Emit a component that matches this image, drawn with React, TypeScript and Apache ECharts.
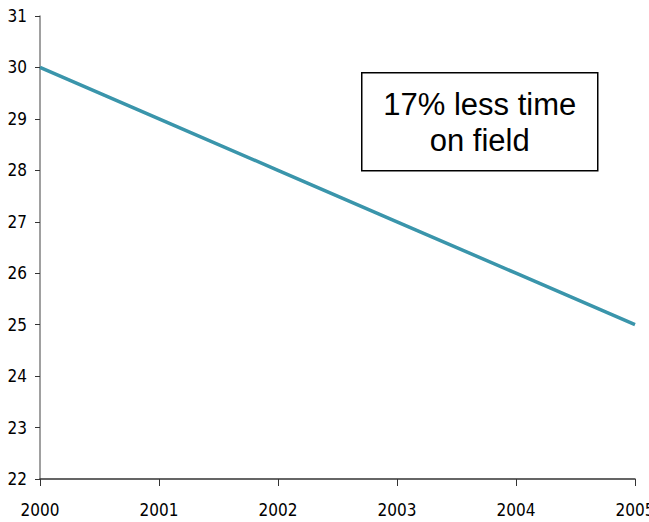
import React, { useEffect, useRef } from "react";
import * as echarts from "echarts";

const years = ["2000", "2001", "2002", "2003", "2004", "2005"];
const values = [30, 29, 28, 27, 26, 25];
const noteLines = ["17% less time", "on field"];

const FONT = "'Liberation Sans Narrow', 'Arial Narrow', 'DejaVu Sans Condensed', sans-serif";

export default function App() {
  const ref = useRef<HTMLDivElement>(null);
  useEffect(() => {
    if (!ref.current) return;
    const chart = echarts.init(ref.current, null, { renderer: "svg" });
    chart.setOption({
      animation: false,
      backgroundColor: "#ffffff",
      grid: { left: 40, right: 14, top: 16, bottom: 43, containLabel: false, outerBoundsMode: "none" },
      xAxis: {
        type: "category",
        data: years,
        boundaryGap: false,
        axisLine: { lineStyle: { color: "#333333", width: 1.5 } },
        axisTick: { show: true, inside: false, length: 7, lineStyle: { color: "#333333", width: 1 } },
        axisLabel: { color: "#000", fontFamily: FONT, fontSize: 17, margin: 22, hideOverlap: false },
        splitLine: { show: false },
      },
      yAxis: {
        type: "value",
        min: 22,
        max: 31,
        interval: 1,
        axisLine: { show: true, lineStyle: { color: "#808080", width: 1.5 } },
        axisTick: { show: true, inside: false, length: 5, lineStyle: { color: "#333333", width: 1 } },
        axisLabel: { color: "#000", fontFamily: FONT, fontSize: 17, margin: 13 },
        splitLine: { show: false },
      },
      series: [
        {
          type: "line",
          data: values,
          symbol: "none",
          lineStyle: { color: "#3A95AB", width: 3.5 },
        },
      ],
      graphic: [
        {
          type: "group",
          left: 361,
          top: 72,
          children: [
            {
              type: "rect",
              shape: { x: 0, y: 0, width: 236, height: 98 },
              style: { fill: "#ffffff", stroke: "#000000", lineWidth: 1.5 },
            },
            {
              type: "text",
              x: 118,
              y: 50,
              style: {
                text: noteLines.join("\n"),
                fontFamily: "'Liberation Sans', Arial, sans-serif",
                fontSize: 31,
                lineHeight: 36,
                fill: "#000",
                align: "center",
                verticalAlign: "middle",
              },
            },
          ],
        },
      ],
    });
    return () => chart.dispose();
  }, []);
  return (
    <div
      ref={ref}
      style={{ position: "fixed", left: 0, top: 0, width: 649, height: 522 }}
    />
  );
}
